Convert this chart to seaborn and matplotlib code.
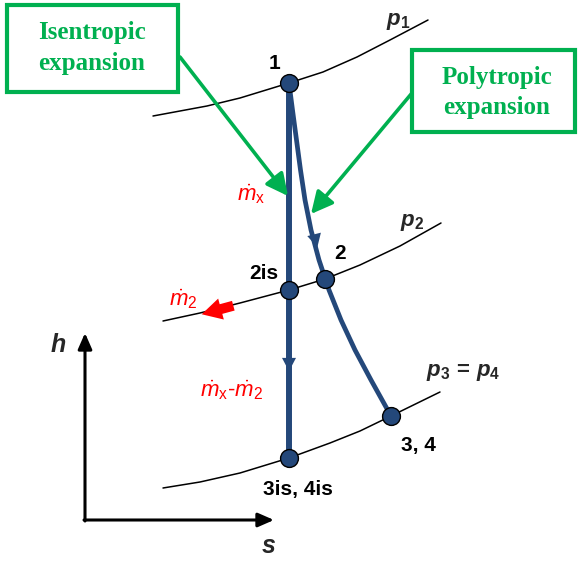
import matplotlib
matplotlib.use("Agg")
import matplotlib.pyplot as plt
import seaborn as sns
import pandas as pd

sns.set_theme(style="white")
plt.rcParams["font.family"] = ["Liberation Sans", "DejaVu Sans"]
plt.rcParams["mathtext.fontset"] = "custom"
plt.rcParams["mathtext.rm"] = "Liberation Sans"
plt.rcParams["mathtext.it"] = "Liberation Sans:italic"
plt.rcParams["mathtext.bf"] = "Liberation Sans:bold"
plt.rcParams["mathtext.bfit"] = "Liberation Sans:italic:bold"

# Diagram coordinates (s to the right, h downward in canvas units)
p1_s = [153, 207, 240, 289, 323, 357, 390, 428]
p1_h = [116, 106, 98, 83, 72, 57, 40, 20]
p2_s = [163, 200, 240, 289, 325, 360, 400, 441]
p2_h = [321, 313, 303, 290, 279, 265, 246, 223]
p3_s = [163, 200, 240, 289, 330, 360, 391, 440]
p3_h = [488, 482, 473, 458, 443, 431, 416, 392]

# Polytropic expansion path 1 -> 2 -> 3,4
poly_s = [289, 292.5, 296.5, 300.5, 305, 311, 319, 329, 341, 355, 371, 391]
poly_h = [83, 110, 140, 170, 200, 230, 260, 290, 320, 350, 380, 416]

# Isentropic expansion path 1 -> 2is -> 3is
isen_s = [289, 289, 289]
isen_h = [83, 290, 458]

state_names = ["1", "2is", "2", "3is, 4is", "3, 4"]
state_s = [289, 289, 325, 289, 391]
state_h = [83, 290, 279, 458, 416]

BLUE = "#24487A"
GREEN = "#00B050"
RED = "#FF0000"

fig = plt.figure(figsize=(5.8, 5.61), dpi=100)
ax = fig.add_axes([0, 0, 1, 1])
ax.set_xlim(0, 580)
ax.set_ylim(561, 0)
ax.axis("off")

# Isobars
for s_vals, h_vals in [(p1_s, p1_h), (p2_s, p2_h), (p3_s, p3_h)]:
    sns.lineplot(x=s_vals, y=h_vals, sort=False, estimator=None, color="black",
                 lw=1.1, ax=ax, zorder=2)

# Expansion lines
sns.lineplot(x=isen_s, y=isen_h, sort=False, estimator=None, color=BLUE, lw=4.3,
             ax=ax, zorder=3)
sns.lineplot(x=poly_s, y=poly_h, sort=False, estimator=None, color=BLUE, lw=3.4,
             ax=ax, zorder=3, solid_joinstyle="round")

# Flow direction heads on the expansion lines
head = dict(arrowstyle="-|>,head_length=0.8,head_width=0.42", color=BLUE, lw=0)
ax.annotate("", xy=(289, 374), xytext=(289, 360), arrowprops=head, zorder=4)
ax.annotate("", xy=(318, 250), xytext=(314.5, 236), arrowprops=head, zorder=4)

# State points
states = pd.DataFrame({"s": state_s, "h": state_h, "name": state_names})
sns.scatterplot(data=states, x="s", y="h", s=165, color=BLUE, edgecolor="black",
                linewidth=1.0, ax=ax, zorder=5, legend=False)

label_pos = {"1": (275, 63), "2is": (264, 273), "2": (340, 253),
             "3is, 4is": (298, 489), "3, 4": (418, 445)}
for name in state_names:
    x, y = label_pos[name]
    ax.text(x, y, name, fontsize=15, fontweight="bold", ha="center",
            va="center", color="black")

# Pressure labels
ax.text(398, 21, r"$\mathbfit{p}_\mathbf{1}$", fontsize=16, ha="center", va="center")
ax.text(412, 222, r"$\mathbfit{p}_\mathbf{2}$", fontsize=16, ha="center", va="center")
ax.text(463, 372, r"$\mathbfit{p}_\mathbf{3}\,\mathbf{=}\,\mathbfit{p}_\mathbf{4}$",
        fontsize=16, ha="center", va="center")

# Mass flow labels
ax.text(251, 194, r"$\dot{m}_\mathrm{x}$", fontsize=16, color=RED, ha="center", va="center")
ax.text(183, 299, r"$\dot{m}_\mathrm{2}$", fontsize=16, color=RED, ha="center", va="center")
ax.text(232, 390, r"$\dot{m}_\mathrm{x}$-$\dot{m}_\mathrm{2}$", fontsize=16, color=RED,
        ha="center", va="center")

# Extraction arrow
ax.annotate("", xy=(199, 315), xytext=(236, 305),
            arrowprops=dict(arrowstyle="simple,head_length=1.2,head_width=1.3,tail_width=0.6",
                        color=RED, lw=0), zorder=4)

# Annotation boxes
box_kw = dict(fill=False, edgecolor=GREEN, lw=3.0, zorder=6)
ax.add_patch(plt.Rectangle((7, 5), 171, 87, **box_kw))
ax.add_patch(plt.Rectangle((412, 50), 163, 82, **box_kw))
serif = dict(family="Liberation Serif", fontweight="bold", fontsize=18,
             color=GREEN, ha="center", va="center")
ax.text(92, 32, "Isentropic", **serif)
ax.text(92, 63, "expansion", **serif)
ax.text(497, 77, "Polytropic", **serif)
ax.text(497, 107, "expansion", **serif)

green_arrow = dict(arrowstyle="-|>,head_length=1.1,head_width=0.55",
                   color=GREEN, lw=2.6, shrinkA=0, shrinkB=0)
ax.annotate("", xy=(288, 196), xytext=(180, 57), arrowprops=green_arrow, zorder=6)
ax.annotate("", xy=(311, 214), xytext=(412, 93), arrowprops=green_arrow, zorder=6)

# h-s axes
axis_arrow = dict(arrowstyle="-|>,head_length=0.8,head_width=0.35",
                  color="black", lw=2.2, shrinkA=0, shrinkB=0)
ax.annotate("", xy=(85, 333), xytext=(85, 521), arrowprops=axis_arrow)
ax.annotate("", xy=(274, 520), xytext=(84, 520), arrowprops=axis_arrow)
ax.text(58, 345, "h", fontsize=18, fontweight="bold", fontstyle="italic",
        ha="center", va="center")
ax.text(269, 546, "s", fontsize=18, fontweight="bold", fontstyle="italic",
        ha="center", va="center")

fig.savefig("out.png", dpi=100)
